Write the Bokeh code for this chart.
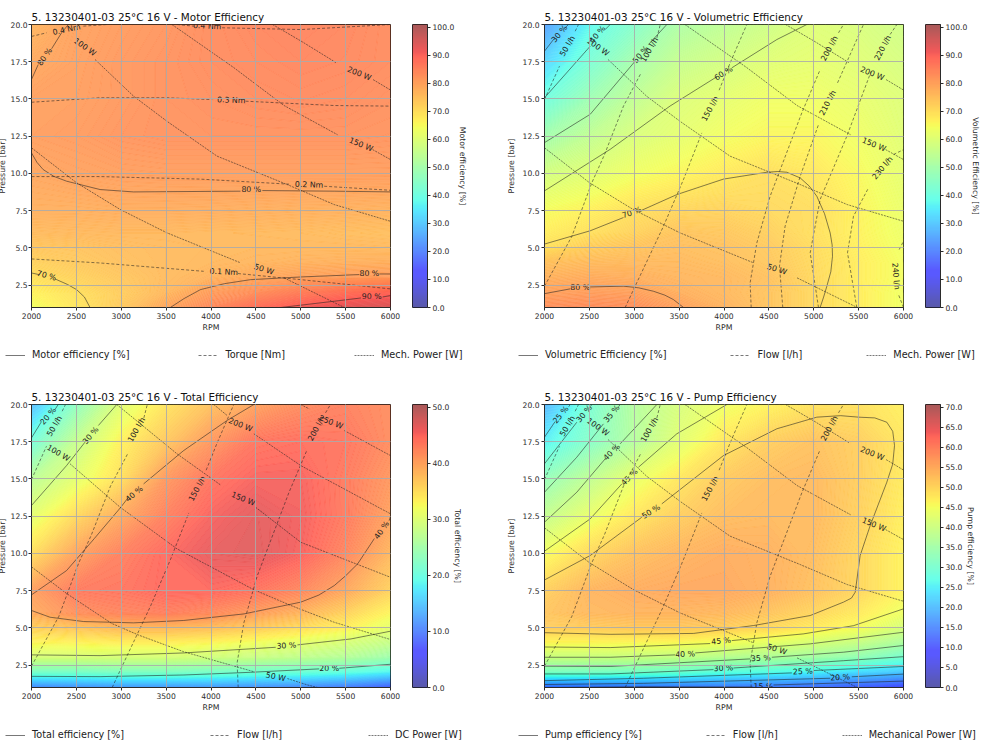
from bokeh.core.properties import value
from bokeh.embed import file_html
from bokeh.layouts import column, row
from bokeh.models import FixedTicker, Legend, LegendItem, LinearColorMapper, NumeralTickFormatter, Range1d
from bokeh.plotting import figure
from bokeh.resources import INLINE
import numpy as np

FONT = "DejaVu Sans"
DARK = "#2b2b2b"

rpm = [2000, 2500, 3000, 3500, 4000, 4500, 5000, 5500, 6000]
pressure = [1, 2, 3, 4, 5, 6, 7.5, 10, 12.5, 15, 17.5, 20]
rpm_ticks = [2000, 2500, 3000, 3500, 4000, 4500, 5000, 5500, 6000]
pressure_ticks = [2.5, 5, 7.5, 10, 12.5, 15, 17.5, 20]

# efficiency fields, one row per pressure
motor_eff = [
    [64, 68.7, 73.5, 79.5, 84, 88, 91, 93.5, 95],
    [66.5, 69.8, 73, 76.5, 80.8, 83, 85.5, 87.5, 89],
    [69.5, 72, 74, 76, 77.5, 79, 80, 80.7, 81],
    [72, 73.5, 75, 76, 76.5, 77, 77.5, 77.8, 78],
    [74, 74.5, 75.5, 76, 76.3, 76.5, 76.5, 76.5, 76.3],
    [76, 76.3, 76.5, 76.5, 76.3, 76.2, 76, 75.6, 75.3],
    [78, 78, 78.3, 78.3, 78.2, 78, 77.8, 77.7, 77.5],
    [79.5, 80.3, 80.8, 81, 81, 81, 81, 81, 81],
    [81, 81.5, 82.5, 83, 83, 83, 83, 83, 82.7],
    [80.8, 81, 82, 83, 83.5, 84, 84.3, 84, 83.3],
    [79, 80.7, 82, 83, 84, 84.5, 85, 84.7, 84],
    [77, 80.3, 81.5, 82.5, 84, 85, 85.5, 85, 84],
]
volumetric_eff = [
    [83, 83.5, 83, 80.3, 77.5, 74.5, 71, 67.5, 64],
    [80.2, 80.7, 80.3, 78, 76.5, 74.5, 71, 67.5, 64],
    [77.5, 78.5, 78, 77, 76.5, 75, 71, 67.5, 64.5],
    [75, 76, 76.3, 76.3, 75.5, 74, 70.8, 67.5, 64.5],
    [69.7, 73, 74.5, 75.5, 75, 73.5, 70.5, 67, 64],
    [67.5, 69.8, 72, 74.5, 74, 72.5, 69.9, 66.7, 63.5],
    [65, 67, 69.8, 71.5, 72, 71, 70.3, 66.5, 63],
    [58.5, 61, 64, 66, 68, 70, 68.5, 65.5, 62],
    [49.5, 55, 59.7, 62, 64.5, 66, 66, 64, 61],
    [40, 48.5, 55, 60.3, 62, 64, 64, 62.5, 60.5],
    [32, 42, 50, 56, 58.5, 61, 62, 61, 59],
    [24, 37, 44, 51.5, 54.5, 57.5, 60.5, 59.5, 57.5],
]
total_eff = [
    [11, 11.5, 12, 12, 12, 11.5, 11, 10, 8],
    [21.5, 21.5, 22, 22, 21.5, 20.8, 20.3, 19.5, 18],
    [29.5, 29.5, 29.5, 29.5, 29, 28.3, 27.5, 26.5, 24.5],
    [33, 33.2, 33.5, 33.5, 33, 32, 31, 29.7, 28],
    [36, 37, 38, 38, 37.5, 36.5, 35, 33.5, 31],
    [39.3, 41.5, 42.5, 43, 42, 40.3, 38.5, 36, 33],
    [40.3, 43.5, 44, 45, 45, 44, 42.3, 39.6, 36],
    [35, 40, 43, 45, 46.5, 47, 45.5, 42.5, 38.3],
    [31, 35.5, 39.5, 43, 45.5, 46.8, 45.8, 43.5, 40],
    [27, 31, 35, 41, 44, 45.5, 45.5, 43.5, 41],
    [20.5, 28, 33.5, 37, 41, 44, 44.5, 44, 42],
    [14, 23, 30.5, 34.5, 37.5, 40, 42, 43, 42],
]
pump_eff = [
    [13, 13.5, 14, 14.3, 14.5, 14, 13, 11.5, 9.5],
    [30.7, 30.5, 30, 29, 27.2, 26.5, 25, 23, 21],
    [39.8, 39.8, 39.7, 39, 37.5, 36.5, 35, 33, 29.5],
    [46.2, 46.2, 46, 45.8, 44.8, 43.5, 41.5, 39.5, 36],
    [51, 51, 51.5, 51.5, 50.8, 49.5, 47.5, 45.5, 41.3],
    [52, 53.5, 54, 54, 53.5, 52, 50, 47.5, 44.5],
    [50.7, 54, 55, 55.5, 55.5, 54.5, 52.5, 50, 46.5],
    [45.3, 49.7, 52.5, 54, 55, 54.5, 53, 50, 46.5],
    [39, 44, 48, 51, 53, 53.5, 53.5, 50.7, 47],
    [33, 38.5, 44, 48, 51.5, 53, 53.5, 51, 47.5],
    [25, 31, 37, 43, 48, 51, 52.5, 51, 48],
    [19, 29.5, 37, 41.5, 44.8, 46.5, 48.5, 48.8, 47],
]

# contour lines: (label, label rpm, label pressure, label angle, line pieces)
motor_lines = [
    ("70 %", 2168, 3.14, -15, [[(2000, 3.32), (2090, 3.2)], [(2261, 2.92), (2400, 2.55), (2503, 2.2), (2590, 1.7), (2652, 1)]]),
    ("80 %", 2149, 17.83, 55, [[(2000, 16.31), (2075, 17.31)], [(2224, 18.37), (2335, 19.44), (2410, 20)]]),
    ("80 %", 4449, 8.92, 0, [[(2000, 11.38), (2060, 10.75), (2130, 10.26), (2250, 9.8), (2391, 9.48), (2764, 8.92), (3137, 8.76), (4329, 8.81)], [(4572, 8.85), (5373, 8.81), (6000, 8.76)]]),
    ("80 %", 5764, 3.28, 0, [[(3547, 1), (3700, 1.6), (3882, 2.2), (4150, 2.6), (4441, 2.87), (5000, 3.05), (5652, 3.21)], [(5876, 3.25), (6000, 3.25)]]),
    ("90 %", 5790, 1.71, 0, [[(4777, 1), (5373, 1.42), (5671, 1.64)], [(5913, 1.71), (6000, 1.8)]]),
]
torque_lines = [
    ("0.4 Nm", 2391, 19.66, 12, [[(2000, 19.2), (2168, 19.44)], [(2578, 19.89), (2839, 20)]]),
    ("0.4 Nm", 3957, 19.89, -3, [[(3621, 20), (3808, 19.89)], [(4124, 19.78), (5000, 19.66), (6000, 20)]]),
    ("0.3 Nm", 4225, 14.92, -2, [[(2000, 14.78), (2764, 15.08), (3510, 15.08), (4013, 14.96)], [(4385, 14.85), (5373, 14.56), (6000, 14.52)]]),
    ("0.2 Nm", 5093, 9.24, -2, [[(2000, 9.79), (2764, 9.79), (3882, 9.62), (4870, 9.28)], [(5261, 9.14), (6000, 8.87)]]),
    ("0.1 Nm", 4143, 3.39, -3, [[(2000, 4.26), (2764, 3.99), (3919, 3.43)], [(4300, 3.28), (5000, 2.87), (6000, 2.25)]]),
]
mech_power_lines = [
    ("50 W", 4590, 3.55, -18, [[(2000, 11.72), (2503, 9.37), (2988, 7.58), (3510, 6.01), (4329, 4)], [(4814, 2.99), (5485, 1)]]),
    ("100 W", 2596, 18.48, -35, [[(2708, 17.65), (3137, 15.19), (3510, 13.5), (4068, 11.16), (4851, 9.25), (5373, 7.91), (6000, 6.79)]]),
    ("150 W", 5671, 11.94, -22, [[(3565, 20), (4255, 17.1), (4814, 14.56), (5410, 12.6)], [(5801, 11.6), (6000, 10.93)]]),
    ("200 W", 5652, 16.7, -22, [[(4686, 20), (5000, 18.9), (5396, 17.43)], [(5806, 16.3), (6000, 15.6)]]),
]
volumetric_lines = [
    ("30 %", 2167, 19.37, 50, [[(2000, 18.21), (2100, 18.99)], [(2230, 19.78), (2267, 20)]]),
    ("40 %", 2590, 19.33, 50, [[(2000, 15.08), (2509, 18.54)], [(2676, 19.66), (2732, 20)]]),
    ("50 %", 3073, 17.99, 50, [[(2000, 12.07), (2509, 13.97), (3010, 17.54)], [(3159, 18.66), (3363, 20)]]),
    ("60 %", 3994, 16.72, 32, [[(2000, 8.83), (2732, 11.62), (3400, 14.53), (3920, 16.49)], [(4087, 17.09), (4589, 18.99), (4923, 20)]]),
    ("70 %", 2973, 7.37, 20, [[(2000, 5.26), (2509, 6.15), (2880, 7.04)], [(3084, 7.53), (3474, 8.58), (3994, 9.62), (4477, 10.08), (4600, 10.13), (4700, 10.08), (4849, 9.7), (4950, 9.15), (5034, 8.47), (5120, 7.3), (5183, 6), (5205, 5.2), (5209, 4.44), (5190, 3.4), (5146, 2.43), (5110, 1.7), (5071, 1)]]),
    ("80 %", 2397, 2.31, 0, [[(2000, 1.93), (2286, 2.25)], [(2509, 2.38), (2880, 2.43), (3050, 2.32), (3214, 2.09), (3340, 1.83), (3437, 1.53), (3549, 1)]]),
]
flow_lines = [
    ("50 l/h", 2256, 18.55, 60, [[(2000, 14.96), (2167, 17.2)], [(2342, 19.55), (2379, 20)]]),
    ("100 l/h", 3170, 18.3, 60, [[(2000, 2.43), (2305, 5.78), (2527, 9.37), (2669, 11.27), (2880, 14.52), (3073, 16.71)], [(3252, 19.1), (3290, 20)]]),
    ("150 l/h", 3846, 14.35, 62, [[(2899, 1), (3010, 2.43), (3326, 6.46), (3549, 9.6), (3753, 12.72)], [(3946, 15.59), (4069, 17.43), (4254, 20)]]),
    ("200 l/h", 5175, 18.4, 62, [[(4303, 1), (4291, 2.65), (4366, 5.34), (4514, 8.47), (4867, 14.07), (5072, 16.98)], [(5276, 19.44), (5331, 20)]]),
]
flow_lines_high = [
    ("210 l/h", 5157, 14.74, 62, [[(4655, 1), (4618, 3.77), (4681, 6.46), (4849, 9.81), (5053, 13.28)], [(5265, 16.08), (5554, 20)]]),
    ("220 l/h", 5770, 18.43, 62, [[(5053, 1), (4960, 4.67), (5071, 8.25), (5369, 12.5), (5647, 16.98)], [(5851, 19.33), (5926, 20)]]),
    ("230 l/h", 5766, 10.37, 50, [[(5480, 1), (5376, 4.67), (5443, 7.13), (5610, 9.03)], [(5889, 11.27), (6000, 11.6)]]),
    ("240 l/h", 5915, 3.1, -85, [[(6000, 1), (5944, 1.87)], [(5952, 4.89), (6000, 5.45)]]),
]
total_lines = [
    ("20 %", 2186, 19.22, 50, [[(2000, 17.76), (2112, 18.86)], [(2261, 19.66), (2298, 20)]]),
    ("30 %", 2660, 17.92, 50, [[(2000, 13.22), (2391, 15.9), (2596, 17.47)], [(2745, 18.59), (2950, 20)]]),
    ("40 %", 3144, 14, 40, [[(2000, 7.22), (2391, 8.85), (2700, 11), (2995, 13.1), (3081, 13.78)], [(3249, 14.67), (3696, 16.91), (4180, 18.93), (4478, 20)]]),
    ("40 %", 5902, 11.56, 55, [[(2000, 6.17), (2205, 5.72), (2578, 5.43), (3137, 5.34), (3696, 5.5), (4367, 5.94), (5000, 6.73), (5200, 7.2), (5373, 7.84), (5500, 8.5), (5634, 9.3), (5820, 11)], [(6000, 12.48), (5985, 12.2)]]),
    ("30 %", 4840, 3.81, 3, [[(2000, 3.19), (2764, 3.14), (3696, 3.32), (4721, 3.7)], [(4963, 3.86), (5559, 4.26), (6000, 4.78)]]),
    ("20 %", 5317, 2.29, 0, [[(2000, 1.75), (2764, 1.73), (3696, 1.84), (4441, 2.02), (5205, 2.25)], [(5429, 2.29), (6000, 2.56)]]),
]
dc_power_lines = [
    ("50 W", 4721, 1.72, -12, [[(2000, 9.1), (2391, 7.31), (2894, 5.3), (3193, 4.52), (3696, 3.4), (4478, 2.06)], [(4851, 1.6), (5075, 1.17), (5187, 1)]]),
    ("100 W", 2298, 16.73, -30, [[(2429, 16.02), (2988, 13.1), (3621, 10.31), (4460, 7.62), (4870, 6.55), (5373, 5.38), (6000, 4.22)]]),
    ("150 W", 4359, 13.66, -22, [[(2950, 20), (3621, 16.69), (4106, 14.6)], [(4497, 13.1), (5000, 10.75), (6000, 8.4)]]),
    ("200 W", 4329, 18.63, -22, [[(4031, 20), (4180, 19.26)], [(4478, 18.03), (5000, 15.9), (6000, 12.66)]]),
    ("250 W", 5336, 18.81, -22, [[(5000, 20), (5093, 19.71)], [(5485, 18.25), (6000, 16.57)]]),
]
pump_lines = [
    ("25 %", 2182, 19.31, 50, [[(2000, 17.81), (2119, 18.86)], [(2286, 20), (2270, 19.85)]]),
    ("30 %", 2442, 19.37, 50, [[(2000, 16.02), (2360, 18.81)], [(2527, 20), (2510, 19.85)]]),
    ("35 %", 2750, 19.37, 50, [[(2000, 14.11), (2360, 16.46), (2657, 18.7)], [(2843, 20), (2825, 19.85)]]),
    ("40 %", 2750, 16.8, 45, [[(2000, 12.1), (2360, 14.11), (2676, 16.35)], [(2843, 17.36), (3252, 20)]]),
    ("45 %", 2947, 15.12, 45, [[(2000, 10.15), (2509, 12.32), (2862, 14.67)], [(3047, 15.79), (3474, 18.03), (4032, 20)]]),
    ("50 %", 3188, 12.81, 32, [[(2000, 8.22), (2509, 9.86), (3084, 12.43)], [(3307, 13.33), (3994, 16.57), (4589, 18.37), (5034, 19.15), (5300, 19.25), (5499, 19.15), (5680, 19.1), (5814, 18.81), (5880, 18.2), (5900, 17.25), (5880, 16), (5814, 14.78), (5629, 11.87), (5517, 9.86), (5462, 7.4), (5420, 7), (5331, 6.73), (4960, 5.83), (4329, 5.16), (3660, 4.63), (2732, 4.57), (2000, 4.68)]]),
    ("45 %", 3968, 4.12, 5, [[(2000, 3.72), (2732, 3.68), (3846, 3.95)], [(4087, 4.15), (4886, 4.6), (5443, 5.15), (6000, 6.28)]]),
    ("40 %", 3567, 3.23, 3, [[(2000, 3.03), (2732, 3.03), (3456, 3.19)], [(3679, 3.32), (4960, 3.93), (6000, 4.71)]]),
    ("35 %", 4410, 2.96, 3, [[(2000, 2.43), (2732, 2.41), (4292, 2.92)], [(4533, 3.03), (5331, 3.37), (6000, 3.82)]]),
    ("30 %", 3994, 2.29, 3, [[(2000, 1.91), (2732, 1.91), (3883, 2.2)], [(4106, 2.31), (5331, 2.8), (6000, 3.07)]]),
    ("25 %", 4878, 2.07, 3, [[(2000, 1.46), (3103, 1.62), (4756, 1.98)], [(4997, 2.14), (6000, 2.41)]]),
    ("20 %", 5294, 1.68, 3, [[(2000, 1.2), (3103, 1.28), (5183, 1.62)], [(5424, 1.72), (6000, 1.9)]]),
    ("15 %", 4440, 1.05, 0, [[(2000, 0.99), (3103, 1.05), (4320, 1.03)], [(4552, 1.17), (6000, 1.43)]]),
]


def jet(v):
    r = np.interp(v, [0, 0.35, 0.66, 0.89, 1], [0, 0, 1, 1, 0.5])
    g = np.interp(v, [0, 0.125, 0.375, 0.64, 0.91, 1], [0, 0, 1, 1, 0, 0])
    b = np.interp(v, [0, 0.11, 0.34, 0.65, 1], [0.5, 1, 1, 0, 0])
    return "#%02x%02x%02x" % (int(r * 255), int(g * 255), int(b * 255))


def style_axis(axis):
    axis.axis_line_color = DARK
    axis.major_tick_line_color = DARK
    axis.minor_tick_line_color = None
    axis.major_tick_out = 3
    axis.major_tick_in = 0
    axis.major_label_text_font = FONT
    axis.major_label_text_font_size = "7.6px"
    axis.major_label_text_color = DARK
    axis.major_label_standoff = 2
    axis.axis_label_text_font = FONT
    axis.axis_label_text_font_size = "7.8px"
    axis.axis_label_text_font_style = "normal"
    axis.axis_label_text_color = DARK


def draw_lines(p, lines, dash):
    xs, ys = [], []
    for label, lx, ly, angle, pieces in lines:
        for piece in pieces:
            xs.append([pt[0] for pt in piece])
            ys.append([pt[1] for pt in piece])
        p.text([lx], [ly], text=[label], angle=[angle], angle_units="deg",
               text_font=value(FONT), text_font_size="7.8px", text_color="#222222",
               text_align="center", text_baseline="middle")
    p.multi_line(xs, ys, line_color="#222222", line_alpha=0.8, line_width=0.7, line_dash=dash)


def panel(title, z, vmax, step, solid, dashed, dotted, label_standoff, tick_standoff):
    p = figure(title=title, frame_width=359, frame_height=283, output_backend="svg", toolbar_location=None,
               x_range=Range1d(2000, 6000), y_range=Range1d(1, 20),
               x_axis_label="RPM", y_axis_label="Pressure [bar]",
               min_border_left=0, min_border_right=12, min_border_top=0, min_border_bottom=37)
    p.title.text_font = FONT
    p.title.text_font_size = "10.4px"
    p.title.text_font_style = "normal"
    p.title.text_color = "#111111"
    p.title.standoff = 4
    p.title.offset = 0
    z = np.array(z, dtype=float)
    levels = np.arange(np.floor(z.min()), np.ceil(z.max()) + step, step)
    mids = (levels[:-1] + levels[1:]) / 2
    p.contour(rpm, pressure, z, levels=levels,
              fill_color=[jet(m / vmax) for m in mids], fill_alpha=0.6,
              line_color=[jet(m / vmax) for m in levels], line_alpha=0.5, line_width=0.4)
    draw_lines(p, solid, "solid")
    for lines in dashed:
        draw_lines(p, lines, "3 2")
    draw_lines(p, dotted, "2 1")
    p.xaxis.ticker = FixedTicker(ticks=rpm_ticks)
    p.yaxis.ticker = FixedTicker(ticks=pressure_ticks)
    p.yaxis.formatter = NumeralTickFormatter(format="0.0")
    style_axis(p.xaxis[0])
    style_axis(p.yaxis[0])
    p.xaxis.axis_label_standoff = 1
    p.yaxis.axis_label_standoff = label_standoff
    p.yaxis.major_label_standoff = tick_standoff
    p.grid.level = "annotation"
    p.grid.grid_line_color = "#aaaaaa"
    p.grid.grid_line_alpha = 0.85
    p.grid.grid_line_width = 1
    p.outline_line_color = DARK
    return p


def colorbar(label, vmax, ticks, right):
    c = figure(title=" ", frame_width=15, frame_height=283, output_backend="svg", toolbar_location=None,
               x_range=Range1d(0, 1), y_range=Range1d(0, vmax), y_axis_location="right",
               y_axis_label=label, min_border_left=10, min_border_right=right, min_border_top=0, min_border_bottom=37)
    c.title.text_font_size = "10.4px"
    c.title.standoff = 4
    mapper = LinearColorMapper(palette=[jet(i / 255) for i in range(256)], low=0, high=vmax)
    c.image(image=[np.linspace(0, vmax, 128).reshape(128, 1)], x=0, y=0, dw=1, dh=vmax, color_mapper=mapper, global_alpha=0.65)
    c.xaxis.visible = False
    c.grid.visible = False
    c.yaxis.ticker = FixedTicker(ticks=ticks)
    c.yaxis.formatter = NumeralTickFormatter(format="0.0")
    style_axis(c.yaxis[0])
    c.yaxis.axis_label_standoff = 1
    c.outline_line_color = DARK
    return c


def legend_row(names, gap, left, width, height, y):
    f = figure(frame_width=width, frame_height=height, output_backend="svg", toolbar_location=None,
               x_range=Range1d(0, 1), y_range=Range1d(0, 1), min_border=0)
    f.axis.visible = False
    f.grid.visible = False
    f.outline_line_color = None
    items = []
    for name, dash in zip(names, ["solid", "3 2", "2 1"]):
        # key only: the points lie outside the range
        r = f.line([2, 3], [2, 3], line_color="#555555", line_width=0.8, line_dash=dash)
        items.append(LegendItem(label=name, renderers=[r]))
    leg = Legend(items=items, orientation="horizontal", location=(left, y), spacing=gap,
                 glyph_width=20, glyph_height=10, label_standoff=7, padding=0, margin=0,
                 border_line_color=None, background_fill_alpha=0,
                 label_text_font=FONT, label_text_font_size="9.7px", label_text_color="#222222")
    f.add_layout(leg)
    return f


tick10 = [0, 10, 20, 30, 40, 50, 60, 70, 80, 90, 100]
tick_total = [0, 10, 20, 30, 40, 50]
tick_pump = [0, 5, 10, 15, 20, 25, 30, 35, 40, 45, 50, 55, 60, 65, 70]

p1 = panel("5. 13230401-03 25°C 16 V - Motor Efficiency", motor_eff, 101, 0.25, motor_lines, [torque_lines], mech_power_lines, 1, 1)
p2 = panel("5. 13230401-03 25°C 16 V - Volumetric Efficiency", volumetric_eff, 101, 0.25, volumetric_lines, [flow_lines, flow_lines_high], mech_power_lines, 4, 2)
p3 = panel("5. 13230401-03 25°C 16 V - Total Efficiency", total_eff, 50.5, 0.25, total_lines, [flow_lines], dc_power_lines, 1, 1)
p4 = panel("5. 13230401-03 25°C 16 V - Pump Efficiency", pump_eff, 70.7, 0.25, pump_lines, [flow_lines], mech_power_lines, 4, 2)

c1 = colorbar("Motor efficiency [%]", 101, tick10, 76)
c2 = colorbar("Volumetric Efficiency [%]", 101, tick10, 40)
c3 = colorbar("Total efficiency [%]", 50.5, tick_total, 76)
c4 = colorbar("Pump efficiency [%]", 70.7, tick_pump, 40)

l1 = legend_row(["Motor efficiency [%]", "Torque [Nm]", "Mech. Power [W]"], 69, 11, 513, 42, 26)
l2 = legend_row(["Volumetric Efficiency [%]", "Flow [l/h]", "Mech. Power [W]"], 64, 11, 480, 42, 26)
l3 = legend_row(["Total efficiency [%]", "Flow [l/h]", "DC Power [W]"], 86, 11, 513, 22, 6)
l4 = legend_row(["Pump efficiency [%]", "Flow [l/h]", "Mechanical Power [W]"], 64, 11, 480, 22, 6)

page = column(row(p1, c1, p2, c2), row(l1, l2), row(p3, c3, p4, c4), row(l3, l4), spacing=0, margin=(6, 0, 0, -6))

open("out.html", "w").write(file_html(page, INLINE))
